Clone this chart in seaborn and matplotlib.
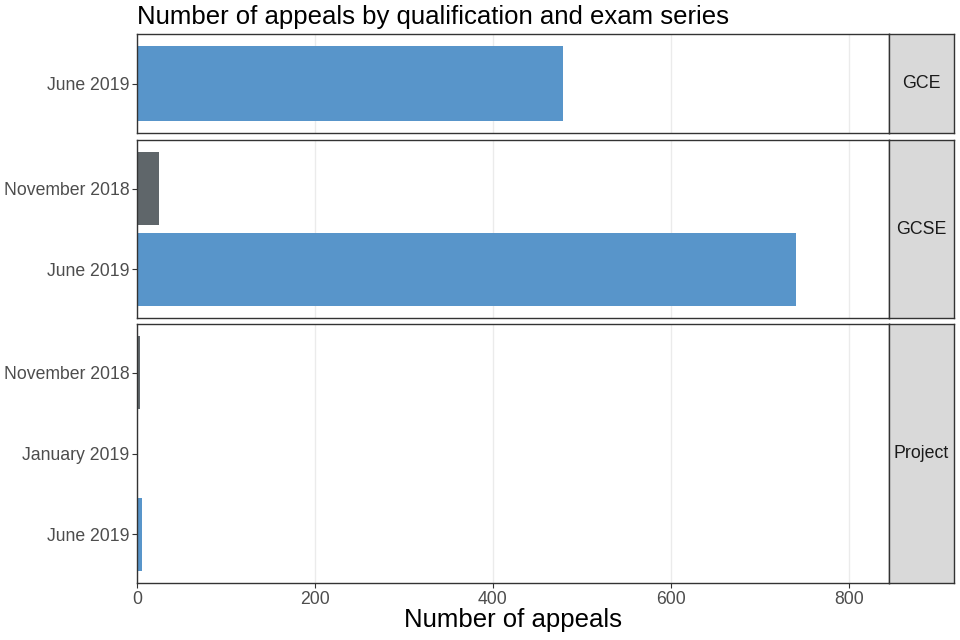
import pandas as pd
import numpy as np
import seaborn as sns
import matplotlib.pyplot as plt

qualifications = ['GCE', 'GCSE', 'GCSE', 'Project', 'Project', 'Project']
series = ['June 2019', 'November 2018', 'June 2019', 'November 2018', 'January 2019', 'June 2019']
appeals = [479, 25, 741, 3, 0, 6]

series_colours = {'November 2018': '#5F666A', 'January 2019': '#5F666A', 'June 2019': '#5895CA'}
facet_order = {
    'GCE': ['June 2019'],
    'GCSE': ['November 2018', 'June 2019'],
    'Project': ['November 2018', 'January 2019', 'June 2019'],
}

df = pd.DataFrame({'qualification': qualifications, 'series': series, 'appeals': appeals})

sns.set_theme(style='white')
plt.rcParams['font.family'] = ['Liberation Sans', 'DejaVu Sans']

W, H = 960, 640
fig = plt.figure(figsize=(9.6, 6.4), dpi=100)

# panel rows in pixels (top, bottom)
rows = {'GCE': (34, 133), 'GCSE': (140, 318), 'Project': (324, 583)}
left, right, strip_right = 137, 889, 954

for qual, (top, bottom) in rows.items():
    ax = fig.add_axes([left / W, 1 - bottom / H, (right - left) / W, (bottom - top) / H])
    sub = df[df['qualification'] == qual]
    order = facet_order[qual]
    sns.barplot(data=sub, x='appeals', y='series', hue='series', order=order,
                palette=series_colours, orient='h', width=0.9, legend=False,
                saturation=1, linewidth=0, ax=ax)
    ax.set_xlim(0, 845)
    ax.set_ylim(len(order) - 0.4, -0.6)
    ax.set_xticks([0, 200, 400, 600, 800])
    ax.grid(axis='x', color='#EBEBEB', linewidth=1)
    ax.set_axisbelow(True)
    for s in ax.spines.values():
        s.set_color('#333333')
        s.set_linewidth(1)
    ax.set_ylabel('')
    ax.set_xlabel('')
    ax.tick_params(axis='y', length=3.5, width=0.8, color='#333333',
                   labelsize=12.7, labelcolor='#4D4D4D', left=True, pad=2)
    if qual == 'Project':
        ax.tick_params(axis='x', length=3.5, width=0.8, color='#333333',
                       labelsize=12.7, labelcolor='#4D4D4D', bottom=True, pad=2)
    else:
        ax.tick_params(axis='x', bottom=False, labelbottom=False)

    strip = fig.add_axes([right / W, 1 - bottom / H, (strip_right - right) / W, (bottom - top) / H])
    strip.set_facecolor('#D9D9D9')
    strip.set_xticks([])
    strip.set_yticks([])
    for s in strip.spines.values():
        s.set_color('#333333')
        s.set_linewidth(1)
    strip.text(0.5, 0.5, qual, ha='center', va='center', fontsize=12.8, color='#1A1A1A',
               transform=strip.transAxes)

fig.text(left / W, 1 - 17 / H, 'Number of appeals by qualification and exam series',
         ha='left', va='center', fontsize=18.5, color='black')
fig.text((left + right) / 2 / W, 1 - 620 / H, 'Number of appeals',
         ha='center', va='center', fontsize=18.5, color='black')

fig.savefig('out.png', dpi=100)
plt.close()
